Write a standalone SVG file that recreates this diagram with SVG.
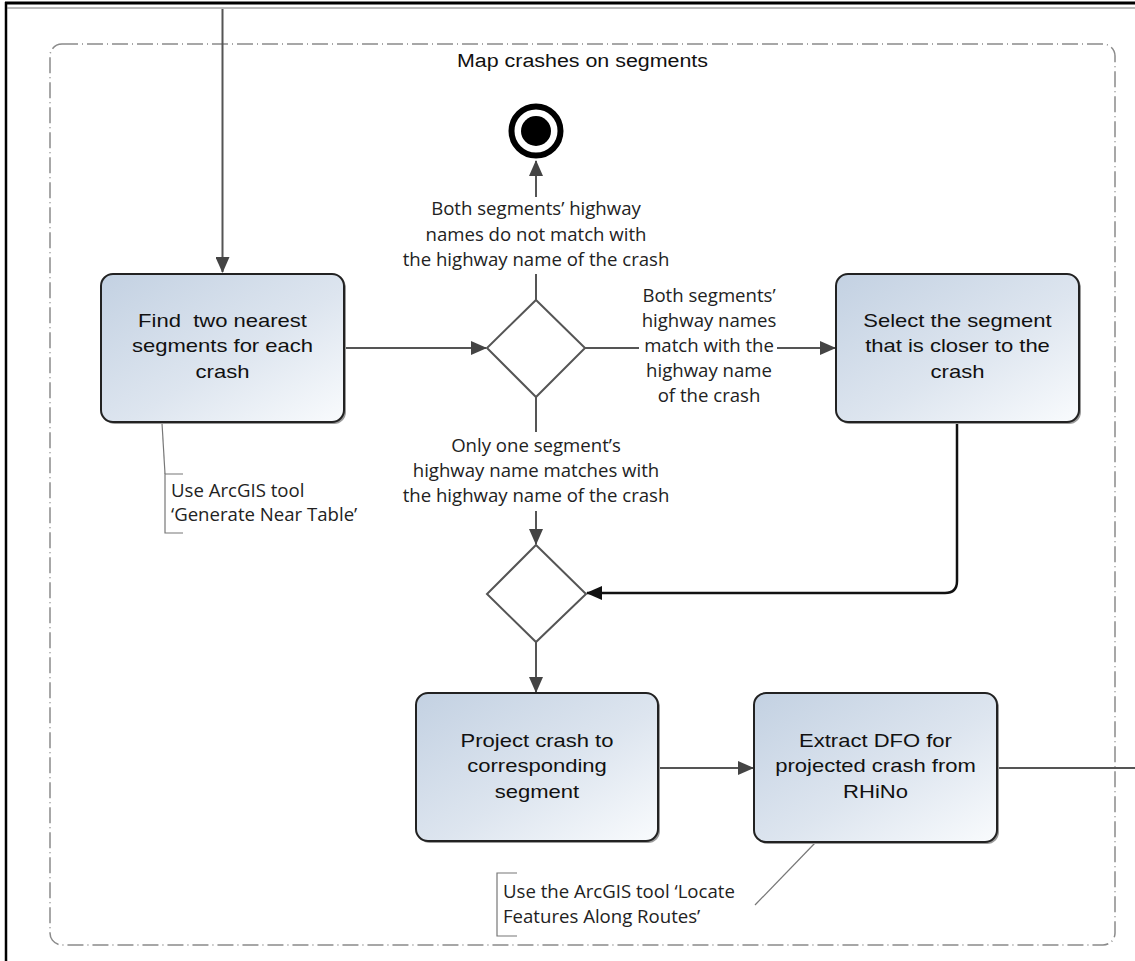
<svg xmlns="http://www.w3.org/2000/svg" width="1135" height="961" viewBox="0 0 1135 961">
<defs>
<linearGradient id="boxfill" x1="0" y1="0" x2="1" y2="1">
<stop offset="0" stop-color="#c3d1e2"/>
<stop offset="0.55" stop-color="#dde5ef"/>
<stop offset="1" stop-color="#f9fbfd"/>
</linearGradient>
<marker id="arr" markerUnits="userSpaceOnUse" markerWidth="16" markerHeight="14" viewBox="0 0 16 14" refX="15" refY="7" orient="auto">
<path d="M0,0 L16,7 L0,14 Z" fill="#444"/>
</marker>
<marker id="arrk" markerUnits="userSpaceOnUse" markerWidth="16" markerHeight="14" viewBox="0 0 16 14" refX="15" refY="7" orient="auto">
<path d="M0,0 L16,7 L0,14 Z" fill="#111"/>
</marker>
</defs>
<style>
.box{fill:url(#boxfill);stroke:#222;stroke-width:2}
.shadow{fill:#9a9a9a}
.btxt{font-family:"Liberation Sans",Arial,sans-serif;font-size:18.5px;fill:#111;text-anchor:middle}
.lbl{font-family:"Open Sans","Liberation Sans",sans-serif;font-size:18.6px;fill:#222;text-anchor:middle}
.note{font-family:"Open Sans","Liberation Sans",sans-serif;font-size:18.6px;fill:#222}
.title{font-family:"Liberation Sans",Arial,sans-serif;font-size:18px;fill:#111;text-anchor:middle}
.conn{fill:none;stroke:#555;stroke-width:2}
.connk{fill:none;stroke:#111;stroke-width:2.5}
.lead{fill:none;stroke:#777;stroke-width:1.2}
.dia{fill:#fff;stroke:#555;stroke-width:2}
</style>
<rect width="1135" height="961" fill="#fff"/>
<g id="frame">
<line x1="6" y1="2" x2="6" y2="961" stroke="#000" stroke-width="2.5"/>
<line x1="5" y1="3" x2="1135" y2="3" stroke="#000" stroke-width="3"/>
<line x1="7" y1="8" x2="1135" y2="8" stroke="#777" stroke-width="1"/>
</g>
<g id="container">
<rect x="50" y="44" width="1065" height="901" rx="12" fill="none" stroke="#8a8a8a" stroke-width="1.5" stroke-dasharray="16 4 1 4"/>
<text class="title" transform="translate(582.5 67) scale(1.19 1)">Map crashes on segments</text>
</g>
<g id="connectors">
<path class="conn" d="M222.5 9 V272" marker-end="url(#arr)"/>
<path class="conn" d="M344 348 H486" marker-end="url(#arr)"/>
<path class="conn" d="M536 300 V274"/>
<path class="conn" d="M536 197 V161" marker-end="url(#arr)"/>
<path class="conn" d="M585 348 H639"/>
<path class="conn" d="M777 348 H835" marker-end="url(#arr)"/>
<path class="conn" d="M536 397 V432"/>
<path class="conn" d="M536 511 V544" marker-end="url(#arr)"/>
<path class="connk" d="M957 422 V581 Q957 593 945 593 H587" marker-end="url(#arrk)"/>
<path class="conn" d="M536 642 V692" marker-end="url(#arr)"/>
<path class="conn" d="M658 768 H753" marker-end="url(#arr)"/>
<path class="conn" d="M997 768 H1135"/>
<path class="lead" d="M162 423 L165 474"/>
<path class="lead" d="M815 843 L755 905"/>
</g>
<g id="label-nomatch">
<text class="lbl" x="536" y="215">Both segments’ highway</text>
<text class="lbl" x="536" y="241">names do not match with</text>
<text class="lbl" x="536" y="266">the highway name of the crash</text>
</g>
<g id="label-bothmatch">
<text class="lbl" x="709" y="302">Both segments’</text>
<text class="lbl" x="709" y="327">highway names</text>
<text class="lbl" x="709" y="352">match with the</text>
<text class="lbl" x="709" y="377">highway name</text>
<text class="lbl" x="709" y="402">of the crash</text>
</g>
<g id="label-onematch">
<text class="lbl" x="536" y="452">Only one segment’s</text>
<text class="lbl" x="536" y="477">highway name matches with</text>
<text class="lbl" x="536" y="502">the highway name of the crash</text>
</g>
<g id="end-node">
<circle cx="536" cy="131" r="24.5" fill="#fff" stroke="#000" stroke-width="6"/>
<circle cx="536" cy="131" r="15" fill="#000"/>
</g>
<g id="find-nearest">
<rect class="shadow" x="103" y="276" width="243" height="148" rx="12"/>
<rect class="box" x="101" y="274" width="243" height="148" rx="12"/>
<text class="btxt" transform="translate(222.5 327) scale(1.19 1)">Find&#160; two nearest</text>
<text class="btxt" transform="translate(222.5 352) scale(1.19 1)">segments for each</text>
<text class="btxt" transform="translate(222.5 378) scale(1.19 1)">crash</text>
</g>
<g id="decision-1">
<polygon class="dia" points="536,300 585,348 536,397 487,348"/>
</g>
<g id="select-closer">
<rect class="shadow" x="838" y="276" width="243" height="148" rx="12"/>
<rect class="box" x="836" y="274" width="243" height="148" rx="12"/>
<text class="btxt" transform="translate(957.5 327) scale(1.19 1)">Select the segment</text>
<text class="btxt" transform="translate(957.5 352) scale(1.19 1)">that is closer to the</text>
<text class="btxt" transform="translate(957.5 378) scale(1.19 1)">crash</text>
</g>
<g id="decision-2">
<polygon class="dia" points="536,545 586,594 536,642 487,594"/>
</g>
<g id="project-crash">
<rect class="shadow" x="418" y="695" width="242" height="148" rx="12"/>
<rect class="box" x="416" y="693" width="242" height="148" rx="12"/>
<text class="btxt" transform="translate(537 747) scale(1.19 1)">Project crash to</text>
<text class="btxt" transform="translate(537 772) scale(1.19 1)">corresponding</text>
<text class="btxt" transform="translate(537 798) scale(1.19 1)">segment</text>
</g>
<g id="extract-dfo">
<rect class="shadow" x="756" y="695" width="243" height="149" rx="12"/>
<rect class="box" x="754" y="693" width="243" height="149" rx="12"/>
<text class="btxt" transform="translate(875.5 747) scale(1.19 1)">Extract DFO for</text>
<text class="btxt" transform="translate(875.5 772) scale(1.19 1)">projected crash from</text>
<text class="btxt" transform="translate(875.5 798) scale(1.19 1)">RHiNo</text>
</g>
<g id="note-near-table">
<path class="lead" d="M183 474 H165 V533 H183"/>
<text class="note" x="171" y="497">Use ArcGIS tool</text>
<text class="note" x="171" y="521">‘Generate Near Table’</text>
</g>
<g id="note-locate">
<path class="lead" d="M517 873 H497 V936 H517"/>
<text class="note" x="503" y="898">Use the ArcGIS tool ‘Locate</text>
<text class="note" x="503" y="923">Features Along Routes’</text>
</g>
</svg>
